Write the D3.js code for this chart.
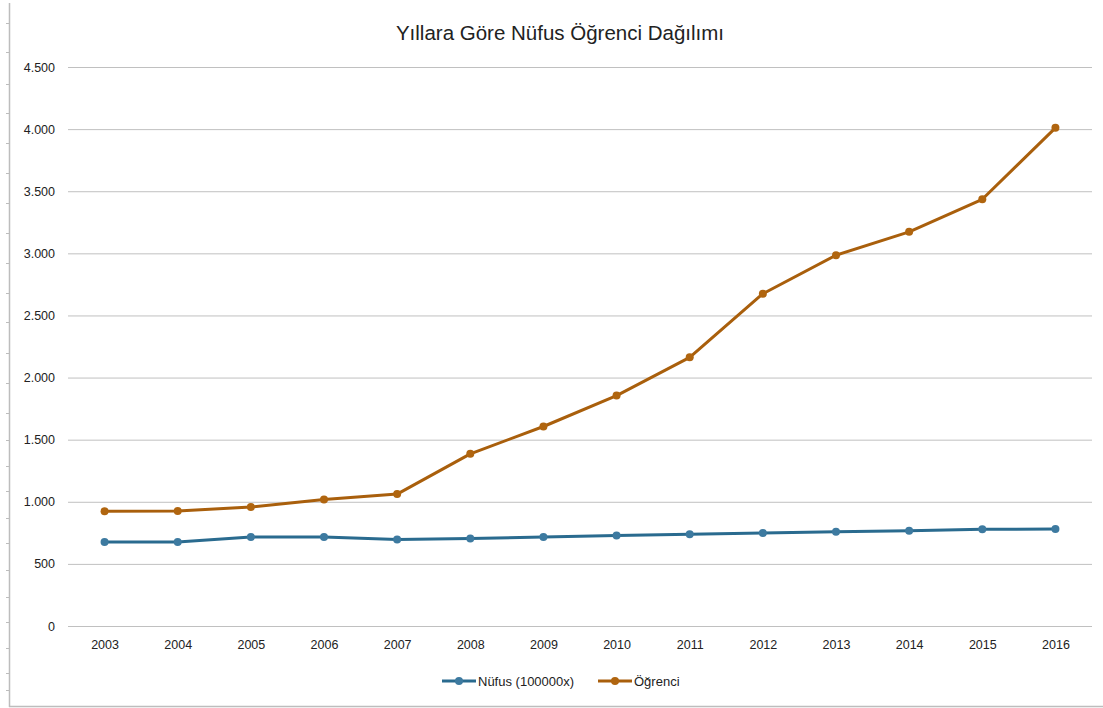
<!DOCTYPE html>
<html><head><meta charset="utf-8">
<script src="https://cdn.jsdelivr.net/npm/d3@7"></script>
<style>body{margin:0;background:#fff}svg{display:block}</style>
</head><body>
<script>
const years = ["2003","2004","2005","2006","2007","2008","2009","2010","2011","2012","2013","2014","2015","2016"];
const nufus = [677,677,717,717,697,705,716,728,738,749,758,767,778,780];
const ogrenci = [923,925,958,1019,1062,1386,1606,1855,2163,2675,2985,3173,3435,4010];
const yTicks = [0,500,1000,1500,2000,2500,3000,3500,4000,4500];
const seriesNames = ["Nüfus (100000x)","Öğrenci"];
const rulerTicks = [23,52,84,113,143,173,203,233,263,293,322,353,383,413,440,466,491,518,543,570,597,622,648,673,690];

(function(){
const W=1103,H=708;
const svg=d3.select("body").append("svg").attr("width",W).attr("height",H);
const font="'Liberation Sans', Arial, sans-serif";

svg.append("line").attr("x1",9.5).attr("x2",9.5).attr("y1",3).attr("y2",707).attr("stroke","#bdbdbd").attr("stroke-width",1.5);
svg.append("line").attr("x1",9).attr("x2",W).attr("y1",706.5).attr("y2",706.5).attr("stroke","#bdbdbd").attr("stroke-width",1.5);
svg.selectAll(".rt").data(rulerTicks).enter().append("line")
  .attr("x1",6).attr("x2",9).attr("y1",d=>d+0.5).attr("y2",d=>d+0.5).attr("stroke","#bdbdbd");

const mL=68,mR=1092,mT=67,mB=626;
const x=d3.scalePoint().domain(years).range([mL,mR]).padding(0.5);
const y=d3.scaleLinear().domain([0,4500]).range([mB,mT]);

const g=svg.append("g");
const yAxis=d3.axisLeft(y).tickValues(yTicks).tickSize(-(mR-mL)).tickPadding(13)
  .tickFormat(d=>d3.format(",")(d).replace(/,/g,"."));
const ya=g.append("g").attr("transform",`translate(${mL},0)`).call(yAxis);
ya.select(".domain").remove();
ya.selectAll(".tick line").attr("stroke","#c0c0c0").attr("stroke-width",1);
ya.selectAll(".tick text").attr("font-family",font).attr("font-size",12.5).attr("fill","#222");

const xAxis=d3.axisBottom(x).tickSize(0).tickPadding(14);
const xa=g.append("g").attr("transform",`translate(0,${mB})`).call(xAxis);
xa.select(".domain").remove();
xa.selectAll(".tick text").attr("font-family",font).attr("font-size",12.5).attr("fill","#222");

svg.append("text").attr("x",560).attr("y",40).attr("text-anchor","middle")
  .attr("font-family",font).attr("font-size",20.5).attr("fill","#222")
  .text("Yıllara Göre Nüfus Öğrenci Dağılımı");

const series=[{name:seriesNames[0],vals:nufus,color:"#2a6b8f",mk:"#3d7aa0"},
              {name:seriesNames[1],vals:ogrenci,color:"#a95f0c",mk:"#b0650f"}];
const line=d3.line().x((d,i)=>x(years[i])).y(d=>y(d));
series.forEach(s=>{
  svg.append("path").datum(s.vals).attr("d",line).attr("fill","none")
    .attr("stroke",s.color).attr("stroke-width",3).attr("stroke-linejoin","round");
  svg.selectAll(null).data(s.vals).enter().append("circle")
    .attr("cx",(d,i)=>x(years[i])).attr("cy",d=>y(d)).attr("r",4).attr("fill",s.mk);
});

const leg=[{s:series[0],x:442},{s:series[1],x:598}];
leg.forEach(l=>{
  const ly=681;
  svg.append("line").attr("x1",l.x).attr("x2",l.x+34).attr("y1",ly).attr("y2",ly)
    .attr("stroke",l.s.color).attr("stroke-width",3);
  svg.append("circle").attr("cx",l.x+17).attr("cy",ly).attr("r",4).attr("fill",l.s.mk);
  svg.append("text").attr("x",l.x+36).attr("y",ly+4.5).attr("font-family",font)
    .attr("font-size",13).attr("fill","#222").text(l.s.name);
});
})();
</script>
</body></html>
